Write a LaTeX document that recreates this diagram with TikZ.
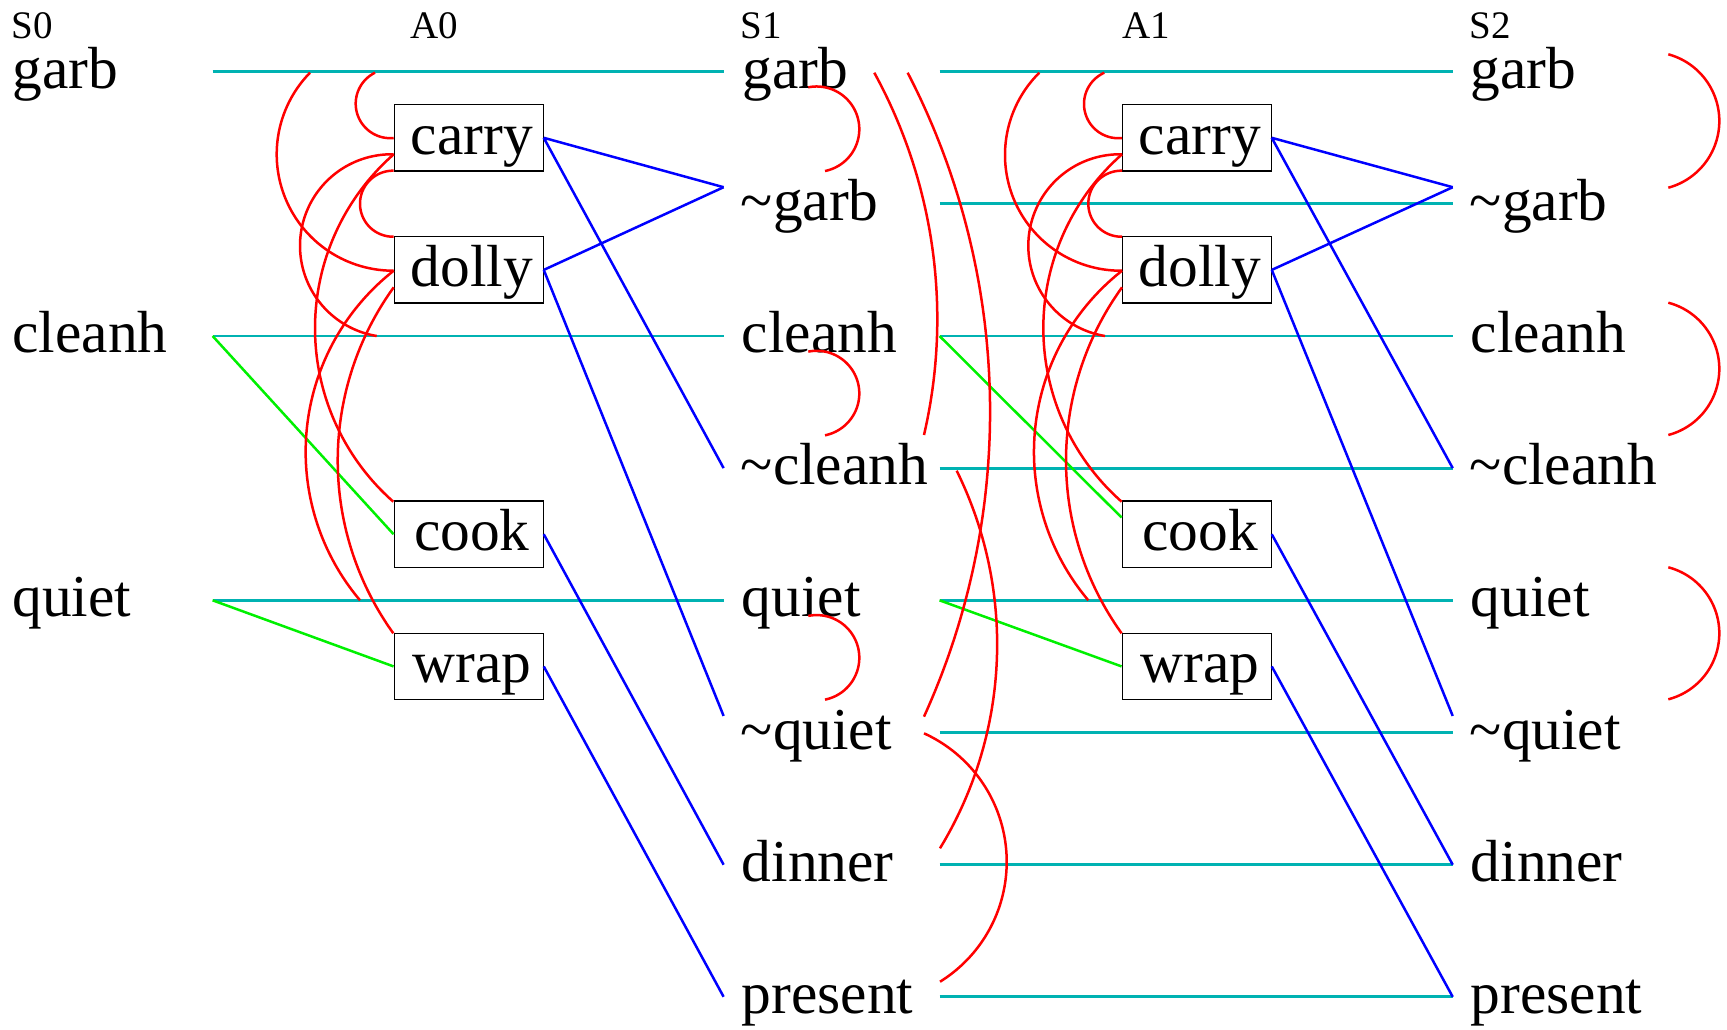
\documentclass[tikz,border=0pt]{standalone}
\usepackage{fontspec}
\setmainfont{Liberation Serif}
\newcommand\propfont{\fontsize{29.7}{32}\selectfont}
\newcommand\lblfont{\fontsize{19.5}{22}\selectfont}
\definecolor{noopc}{RGB}{0,178,178}
\definecolor{effc}{RGB}{0,0,255}
\definecolor{prec}{RGB}{0,240,0}
\definecolor{mxc}{RGB}{255,0,0}
\tikzset{
  prop/.style={anchor=base west, inner sep=0pt, font=\propfont},
  lbl/.style={anchor=base west, inner sep=0pt, font=\lblfont},
  act/.style={draw=black, line width=0.6pt, inner sep=0pt, minimum width=74.5pt,
    minimum height=33.15pt, text height=22pt, text depth=5.5pt, font=\propfont,
    execute at begin node=\hspace*{3.3pt}},
  noop/.style={draw=noopc, line width=1.45pt},
  eff/.style={draw=effc, line width=1.25pt},
  pre/.style={draw=prec, line width=1.25pt},
  mutex/.style={draw=mxc, line width=1.25pt},
}
% circular arc through three points (screen px)
\newcommand{\mutexarc}[6]{%
  \pgfmathsetmacro\mzbx{(#3-(#1))/100}%
  \pgfmathsetmacro\mzby{(#4-(#2))/100}%
  \pgfmathsetmacro\mzcx{(#5-(#1))/100}%
  \pgfmathsetmacro\mzcy{(#6-(#2))/100}%
  \pgfmathsetmacro\mzbb{\mzbx*\mzbx+\mzby*\mzby}%
  \pgfmathsetmacro\mzcc{\mzcx*\mzcx+\mzcy*\mzcy}%
  \pgfmathsetmacro\mzD{2*(\mzbx*\mzcy-\mzby*\mzcx)}%
  \pgfmathsetmacro\mzux{(\mzcy*\mzbb-\mzby*\mzcc)/\mzD}%
  \pgfmathsetmacro\mzuy{(\mzbx*\mzcc-\mzcx*\mzbb)/\mzD}%
  \pgfmathsetmacro\mzr{100*sqrt(\mzux*\mzux+\mzuy*\mzuy)}%
  \pgfmathsetmacro\mzaA{atan2(-\mzuy,-\mzux)}%
  \pgfmathsetmacro\mzaB{atan2(\mzby-\mzuy,\mzbx-\mzux)}%
  \pgfmathsetmacro\mzaC{atan2(\mzcy-\mzuy,\mzcx-\mzux)}%
  \pgfmathsetmacro\mzdB{mod(\mzaB-\mzaA+720,360)}%
  \pgfmathsetmacro\mzdC{mod(\mzaC-\mzaA+720,360)}%
  \pgfmathsetmacro\mzaE{ifthenelse(\mzdB<\mzdC,\mzaA+\mzdC,\mzaA+\mzdC-360)}%
  \pgfmathsetmacro\mzlo{min(\mzaA,\mzaE)}%
  \pgfmathsetmacro\mzhi{max(\mzaA,\mzaE)}%
  \pgfmathsetmacro\mzUx{#1+100*\mzux}%
  \pgfmathsetmacro\mzUy{#2+100*\mzuy}%
  \draw[mutex] plot[domain=\mzlo:\mzhi,samples=90,variable=\t] ({\mzUx+\mzr*cos(\t)},{\mzUy+\mzr*sin(\t)});%
}
\begin{document}
\begin{tikzpicture}[x=0.5pt,y=-0.5pt]
\useasboundingbox (0,0) rectangle (1727,1029);
% level labels
\node[lbl] (lS0) at (11.5,38) {S0};
\node[lbl] (lA0) at (410,38) {A0};
\node[lbl] (lS1) at (740.5,38) {S1};
\node[lbl] (lA1) at (1122,38) {A1};
\node[lbl] (lS2) at (1469.5,38) {S2};
% S0
\node[prop] (s0garb) at (12,88.2) {garb};
\node[prop] (s0cleanh) at (12,352.5) {cleanh};
\node[prop] (s0quiet) at (12,616.8) {quiet};
% S1
\node[prop] (s1garb) at (742,88.2) {garb};
\node[prop] (s1ngarb) at (740.5,220.3) {\textasciitilde garb};
\node[prop] (s1cleanh) at (741.5,352.5) {cleanh};
\node[prop] (s1ncleanh) at (740.5,484.6) {\textasciitilde cleanh};
\node[prop] (s1quiet) at (741.5,616.8) {quiet};
\node[prop] (s1nquiet) at (740.5,749.0) {\textasciitilde quiet};
\node[prop] (s1dinner) at (741.5,881.2) {dinner};
\node[prop] (s1present) at (741.5,1013.3) {present};
% S2
\node[prop] (s2garb) at (1470.5,88.2) {garb};
\node[prop] (s2ngarb) at (1469.5,220.3) {\textasciitilde garb};
\node[prop] (s2cleanh) at (1470.5,352.5) {cleanh};
\node[prop] (s2ncleanh) at (1469.5,484.6) {\textasciitilde cleanh};
\node[prop] (s2quiet) at (1470.5,616.8) {quiet};
\node[prop] (s2nquiet) at (1469.5,749.0) {\textasciitilde quiet};
\node[prop] (s2dinner) at (1470.5,881.2) {dinner};
\node[prop] (s2present) at (1470.5,1013.3) {present};
% actions A0
\node[act] (a0carry) at (468.65,137.8) {carry};
\node[act] (a0dolly) at (468.65,269.9) {dolly};
\node[act] (a0cook) at (468.65,534.2) {cook};
\node[act] (a0wrap) at (468.65,666.4) {wrap};
% actions A1
\node[act] (a1carry) at (1196.65,137.8) {carry};
\node[act] (a1dolly) at (1196.65,269.9) {dolly};
\node[act] (a1cook) at (1196.65,534.2) {cook};
\node[act] (a1wrap) at (1196.65,666.4) {wrap};
% line end coordinates
\foreach \nm/\yy in {garb/71.7, cleanh/336.0, quiet/600.3}{
  \coordinate (l0\nm) at (212.6,\yy);
  \coordinate (r0\nm) at (723.6,\yy);
}
\foreach \nm/\yy in {garb/71.7, ngarb/203.8, cleanh/336.0, ncleanh/468.1, quiet/600.3, nquiet/732.5, dinner/864.7, present/996.8}{
  \coordinate (l1\nm) at (939.5,\yy);
  \coordinate (r1\nm) at (1452.7,\yy);
}
\foreach \k/\xx in {1/723.6, 2/1452.7}{
  \coordinate (e\k ngarb) at (\xx,187.2);
  \coordinate (e\k ncleanh) at (\xx,468.1);
  \coordinate (e\k nquiet) at (\xx,715.9);
  \coordinate (e\k dinner) at (\xx,864.7);
  \coordinate (e\k present) at (\xx,996.8);
}
% noop lines
\draw[noop] (l0garb) -- (r0garb);
\draw[noop] (l0cleanh) -- (r0cleanh);
\draw[noop] (l0quiet) -- (r0quiet);
\foreach \nm in {garb,ngarb,cleanh,ncleanh,quiet,nquiet,dinner,present}{
  \draw[noop] (l1\nm) -- (r1\nm);
}
% preconditions
\draw[pre] (l0cleanh) -- (a0cook.west);
\draw[pre] (l0quiet) -- (a0wrap.west);
\draw[pre] (l1cleanh) -- ([yshift=8.35pt]a1cook.west);
\draw[pre] (l1quiet) -- (a1wrap.west);
% effects
\draw[eff] (a0carry.east) -- (e1ngarb);
\draw[eff] (a0carry.east) -- (e1ncleanh);
\draw[eff] (a0dolly.east) -- (e1ngarb);
\draw[eff] (a0dolly.east) -- (e1nquiet);
\draw[eff] (a0cook.east) -- (e1dinner);
\draw[eff] (a0wrap.east) -- (e1present);
\draw[eff] (a1carry.east) -- (e2ngarb);
\draw[eff] (a1carry.east) -- (e2ncleanh);
\draw[eff] (a1dolly.east) -- (e2ngarb);
\draw[eff] (a1dolly.east) -- (e2nquiet);
\draw[eff] (a1cook.east) -- (e2dinner);
\draw[eff] (a1wrap.east) -- (e2present);
% action mutexes A0
\mutexarc{375}{72.7}{355.7}{103.3}{393.7}{138}
\mutexarc{310}{72.7}{276.7}{153.3}{393.7}{270.7}
\mutexarc{393.7}{154.3}{300}{246.7}{376.7}{336}
\mutexarc{393.7}{170.7}{360}{203.7}{393.7}{236.7}
\mutexarc{393.7}{154.3}{315}{328}{393.3}{501.7}
\mutexarc{393.7}{270.7}{305.7}{446.7}{360}{600.3}
\mutexarc{393.7}{287.3}{337.7}{460.3}{393.3}{633.3}
% action mutexes A1
\begin{scope}[xshift=364.15pt]
\mutexarc{376}{72.7}{355.7}{103.3}{393.7}{138}
\mutexarc{311}{72.7}{276.7}{153.3}{393.7}{270.7}
\mutexarc{393.7}{154.3}{300}{246.7}{376.7}{336}
\mutexarc{393.7}{170.7}{360}{203.7}{393.7}{236.7}
\mutexarc{393.7}{154.3}{315}{328}{393.3}{501.7}
\mutexarc{393.7}{270.7}{305.7}{446.7}{360}{600.3}
\mutexarc{393.7}{287.3}{337.7}{460.3}{393.3}{633.3}
\end{scope}
% proposition mutexes S1
\mutexarc{808.3}{87.3}{859.3}{129.5}{825}{171}
\mutexarc{808.3}{351.6}{859.3}{393.8}{825}{435.3}
\mutexarc{808.3}{615.9}{859.3}{658.1}{825}{699.6}
\mutexarc{874.3}{72.7}{937.3}{316.7}{924}{435}
\mutexarc{907.7}{72.7}{990}{400}{924}{716.7}
\mutexarc{956.7}{470.7}{997}{655}{940}{848.3}
\mutexarc{924}{733.3}{1006.7}{863.3}{940}{981.7}
% proposition mutexes S2
\mutexarc{1668.3}{54.3}{1719.3}{121}{1668.3}{187.7}
\mutexarc{1668.3}{302.7}{1719.3}{368.8}{1668.3}{435}
\mutexarc{1668.3}{567.3}{1719.3}{633.3}{1668.3}{699.3}
\end{tikzpicture}
\end{document}
